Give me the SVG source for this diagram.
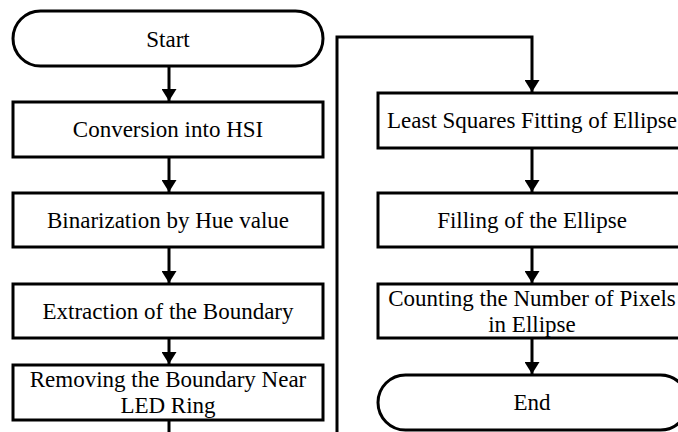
<svg xmlns="http://www.w3.org/2000/svg" width="678" height="432" viewBox="0 0 678 432">
  <style>
    .shape { fill: #fff; stroke: #000; stroke-width: 3; }
    .lbl { font-family: "Liberation Serif", "Times New Roman", serif; font-size: 23px; fill: #000; text-anchor: middle; }
    .wire { fill: none; stroke: #000; stroke-width: 3; }
  </style>
  <defs>
    <marker id="arrow" viewBox="0 0 12 15" refX="12" refY="7.5" markerWidth="12" markerHeight="15" markerUnits="userSpaceOnUse" orient="auto">
      <path d="M0,0 L12,7.5 L0,15 Z" fill="#000"/>
    </marker>
  </defs>
  <rect width="678" height="432" fill="#fff"/>

  <g id="connectors">
    <line class="wire" x1="169" y1="66" x2="169" y2="101" marker-end="url(#arrow)"/>
    <line class="wire" x1="169" y1="157" x2="169" y2="192" marker-end="url(#arrow)"/>
    <line class="wire" x1="169" y1="247" x2="169" y2="283" marker-end="url(#arrow)"/>
    <line class="wire" x1="169" y1="338" x2="169" y2="364" marker-end="url(#arrow)"/>
    <line class="wire" x1="169" y1="420" x2="169" y2="434"/>
    <polyline class="wire" points="337,434 337,37 532,37 532,92" marker-end="url(#arrow)"/>
    <line class="wire" x1="532" y1="148" x2="532" y2="192" marker-end="url(#arrow)"/>
    <line class="wire" x1="532" y1="247" x2="532" y2="283" marker-end="url(#arrow)"/>
    <line class="wire" x1="532" y1="338" x2="532" y2="374" marker-end="url(#arrow)"/>
  </g>

  <g id="start">
    <rect class="shape" x="13" y="11" width="310" height="55" rx="27.5" ry="27.5"/>
    <text class="lbl" x="168" y="47">Start</text>
  </g>
  <g id="hsi">
    <rect class="shape" x="13" y="102" width="310" height="55"/>
    <text class="lbl" x="168" y="137">Conversion into HSI</text>
  </g>
  <g id="binarize">
    <rect class="shape" x="13" y="193" width="310" height="54"/>
    <text class="lbl" x="168" y="228">Binarization by Hue value</text>
  </g>
  <g id="boundary">
    <rect class="shape" x="13" y="284" width="310" height="54"/>
    <text class="lbl" x="168" y="319">Extraction of the Boundary</text>
  </g>
  <g id="remove">
    <rect class="shape" x="13" y="365" width="310" height="55"/>
    <text class="lbl" x="168" y="387">Removing the Boundary Near</text>
    <text class="lbl" x="168" y="413">LED Ring</text>
  </g>
  <g id="fit">
    <rect class="shape" x="378" y="93" width="310" height="55"/>
    <text class="lbl" x="532" y="128">Least Squares Fitting of Ellipse</text>
  </g>
  <g id="fill">
    <rect class="shape" x="378" y="193" width="310" height="54"/>
    <text class="lbl" x="532" y="228">Filling of the Ellipse</text>
  </g>
  <g id="count">
    <rect class="shape" x="378" y="284" width="310" height="54"/>
    <text class="lbl" x="532" y="306">Counting the Number of Pixels</text>
    <text class="lbl" x="532" y="332">in Ellipse</text>
  </g>
  <g id="end">
    <rect class="shape" x="378" y="375" width="310" height="55" rx="27.5" ry="27.5"/>
    <text class="lbl" x="532" y="410">End</text>
  </g>
</svg>
